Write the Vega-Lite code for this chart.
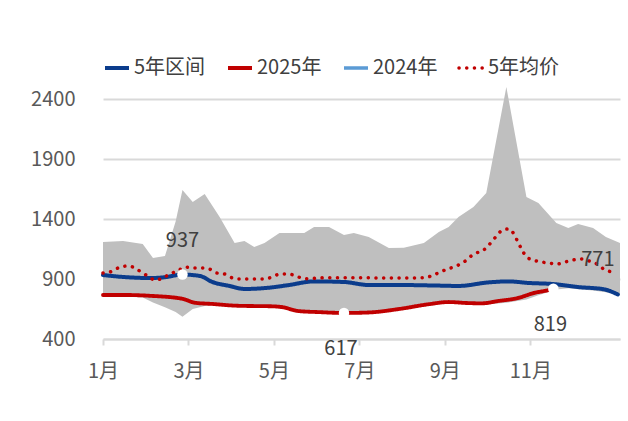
{
  "$schema": "https://vega.github.io/schema/vega-lite/v6.json",
  "width": 517,
  "height": 240,
  "autosize": {"type": "none"},
  "padding": {"left": 103, "top": 99, "right": 8, "bottom": 82},
  "config": {
    "view": {"stroke": null},
    "font": "Noto Sans CJK SC",
    "axis": {"labelFont": "Noto Sans CJK SC", "labelFontSize": 20, "labelColor": "#595959", "title": null}
  },
  "datasets": {
    "band": [
      {"m": 0.00, "lo": 755, "hi": 1208},
      {"m": 0.47, "lo": 755, "hi": 1217},
      {"m": 0.93, "lo": 745, "hi": 1192},
      {"m": 1.17, "lo": 705, "hi": 1075},
      {"m": 1.45, "lo": 665, "hi": 1092},
      {"m": 1.70, "lo": 625, "hi": 1380},
      {"m": 1.86, "lo": 585, "hi": 1642},
      {"m": 2.10, "lo": 650, "hi": 1542},
      {"m": 2.38, "lo": 675, "hi": 1608},
      {"m": 2.73, "lo": 688, "hi": 1417},
      {"m": 3.08, "lo": 672, "hi": 1200},
      {"m": 3.31, "lo": 668, "hi": 1217},
      {"m": 3.54, "lo": 666, "hi": 1167},
      {"m": 3.78, "lo": 666, "hi": 1200},
      {"m": 4.13, "lo": 658, "hi": 1283},
      {"m": 4.71, "lo": 624, "hi": 1283},
      {"m": 4.94, "lo": 616, "hi": 1333},
      {"m": 5.29, "lo": 613, "hi": 1333},
      {"m": 5.64, "lo": 610, "hi": 1267},
      {"m": 5.87, "lo": 610, "hi": 1283},
      {"m": 6.22, "lo": 613, "hi": 1250},
      {"m": 6.69, "lo": 633, "hi": 1158},
      {"m": 7.04, "lo": 653, "hi": 1160},
      {"m": 7.51, "lo": 686, "hi": 1200},
      {"m": 7.86, "lo": 702, "hi": 1292},
      {"m": 8.09, "lo": 700, "hi": 1333},
      {"m": 8.32, "lo": 694, "hi": 1417},
      {"m": 8.67, "lo": 690, "hi": 1500},
      {"m": 8.97, "lo": 688, "hi": 1617},
      {"m": 9.44, "lo": 702, "hi": 2500},
      {"m": 9.91, "lo": 730, "hi": 1583},
      {"m": 10.19, "lo": 765, "hi": 1533},
      {"m": 10.61, "lo": 812, "hi": 1367},
      {"m": 10.89, "lo": 822, "hi": 1325},
      {"m": 11.12, "lo": 815, "hi": 1358},
      {"m": 11.47, "lo": 805, "hi": 1325},
      {"m": 11.77, "lo": 790, "hi": 1250},
      {"m": 12.10, "lo": 765, "hi": 1200}
    ],
    "lines": [
      {"series": "5年区间", "m": 0.00, "v": 933},
      {"series": "5年区间", "m": 0.47, "v": 917},
      {"series": "5年区间", "m": 1.10, "v": 908},
      {"series": "5年区间", "m": 1.45, "v": 915},
      {"series": "5年区间", "m": 1.86, "v": 937},
      {"series": "5年区间", "m": 2.27, "v": 925},
      {"series": "5年区间", "m": 2.56, "v": 875},
      {"series": "5年区间", "m": 2.96, "v": 842},
      {"series": "5年区间", "m": 3.31, "v": 817},
      {"series": "5年区间", "m": 3.90, "v": 828},
      {"series": "5年区间", "m": 4.36, "v": 850},
      {"series": "5年区间", "m": 4.94, "v": 880},
      {"series": "5年区间", "m": 5.64, "v": 875},
      {"series": "5年区间", "m": 6.22, "v": 850},
      {"series": "5年区间", "m": 6.93, "v": 850},
      {"series": "5年区间", "m": 7.86, "v": 845},
      {"series": "5年区间", "m": 8.32, "v": 842},
      {"series": "5年区间", "m": 9.03, "v": 872},
      {"series": "5年区间", "m": 9.49, "v": 880},
      {"series": "5年区间", "m": 9.96, "v": 867},
      {"series": "5年区间", "m": 10.54, "v": 858},
      {"series": "5年区间", "m": 11.12, "v": 833},
      {"series": "5年区间", "m": 11.71, "v": 815},
      {"series": "5年区间", "m": 12.05, "v": 771},
      {"series": "2025年", "m": 0.00, "v": 767},
      {"series": "2025年", "m": 0.47, "v": 767},
      {"series": "2025年", "m": 1.10, "v": 760},
      {"series": "2025年", "m": 1.86, "v": 735},
      {"series": "2025年", "m": 2.15, "v": 702},
      {"series": "2025年", "m": 2.56, "v": 692},
      {"series": "2025年", "m": 3.15, "v": 677},
      {"series": "2025年", "m": 4.00, "v": 672},
      {"series": "2025年", "m": 4.20, "v": 665},
      {"series": "2025年", "m": 4.57, "v": 633},
      {"series": "2025年", "m": 5.06, "v": 624},
      {"series": "2025年", "m": 5.64, "v": 617},
      {"series": "2025年", "m": 6.22, "v": 621},
      {"series": "2025年", "m": 6.93, "v": 650},
      {"series": "2025年", "m": 7.63, "v": 690},
      {"series": "2025年", "m": 8.09, "v": 708},
      {"series": "2025年", "m": 8.51, "v": 700},
      {"series": "2025年", "m": 8.86, "v": 697},
      {"series": "2025年", "m": 9.26, "v": 717},
      {"series": "2025年", "m": 9.72, "v": 742},
      {"series": "2025年", "m": 10.08, "v": 783},
      {"series": "2025年", "m": 10.43, "v": 808},
      {"series": "2025年", "m": 10.54, "v": 819},
      {"series": "5年均价", "m": 0.00, "v": 950},
      {"series": "5年均价", "m": 0.23, "v": 967},
      {"series": "5年均价", "m": 0.40, "v": 1000},
      {"series": "5年均价", "m": 0.56, "v": 1008},
      {"series": "5年均价", "m": 0.75, "v": 992},
      {"series": "5年均价", "m": 0.89, "v": 958},
      {"series": "5年均价", "m": 1.05, "v": 925},
      {"series": "5年均价", "m": 1.21, "v": 892},
      {"series": "5年均价", "m": 1.40, "v": 908},
      {"series": "5年均价", "m": 1.56, "v": 942},
      {"series": "5年均价", "m": 1.75, "v": 967},
      {"series": "5年均价", "m": 1.91, "v": 1000},
      {"series": "5年均价", "m": 2.14, "v": 992},
      {"series": "5年均价", "m": 2.33, "v": 992},
      {"series": "5年均价", "m": 2.49, "v": 983},
      {"series": "5年均价", "m": 2.66, "v": 950},
      {"series": "5年均价", "m": 2.84, "v": 942},
      {"series": "5年均价", "m": 3.03, "v": 908},
      {"series": "5年均价", "m": 3.19, "v": 900},
      {"series": "5年均价", "m": 3.59, "v": 900},
      {"series": "5年均价", "m": 3.78, "v": 900},
      {"series": "5年均价", "m": 3.96, "v": 917},
      {"series": "5年均价", "m": 4.15, "v": 942},
      {"series": "5年均价", "m": 4.34, "v": 942},
      {"series": "5年均价", "m": 4.52, "v": 925},
      {"series": "5年均价", "m": 4.71, "v": 902},
      {"series": "5年均价", "m": 5.20, "v": 910},
      {"series": "5年均价", "m": 6.00, "v": 910},
      {"series": "5年均价", "m": 6.80, "v": 908},
      {"series": "5年均价", "m": 7.51, "v": 910},
      {"series": "5年均价", "m": 7.79, "v": 942},
      {"series": "5年均价", "m": 7.95, "v": 967},
      {"series": "5年均价", "m": 8.14, "v": 992},
      {"series": "5年均价", "m": 8.32, "v": 1017},
      {"series": "5年均价", "m": 8.48, "v": 1050},
      {"series": "5年均价", "m": 8.62, "v": 1092},
      {"series": "5年均价", "m": 8.79, "v": 1125},
      {"series": "5年均价", "m": 8.97, "v": 1158},
      {"series": "5年均价", "m": 9.09, "v": 1208},
      {"series": "5年均价", "m": 9.21, "v": 1258},
      {"series": "5年均价", "m": 9.35, "v": 1308},
      {"series": "5年均价", "m": 9.49, "v": 1317},
      {"series": "5年均价", "m": 9.63, "v": 1267},
      {"series": "5年均价", "m": 9.72, "v": 1200},
      {"series": "5年均价", "m": 9.81, "v": 1142},
      {"series": "5年均价", "m": 9.91, "v": 1083},
      {"series": "5年均价", "m": 10.07, "v": 1058},
      {"series": "5年均价", "m": 10.26, "v": 1042},
      {"series": "5年均价", "m": 10.44, "v": 1033},
      {"series": "5年均价", "m": 10.63, "v": 1025},
      {"series": "5年均价", "m": 10.82, "v": 1042},
      {"series": "5年均价", "m": 11.00, "v": 1058},
      {"series": "5年均价", "m": 11.19, "v": 1067},
      {"series": "5年均价", "m": 11.38, "v": 1050},
      {"series": "5年均价", "m": 11.56, "v": 1025},
      {"series": "5年均价", "m": 11.72, "v": 983},
      {"series": "5年均价", "m": 11.91, "v": 958}
    ],
    "marks": [
      {"m": 1.86, "v": 937, "label": "937"},
      {"m": 5.64, "v": 617, "label": "617"},
      {"m": 10.54, "v": 819, "label": "819"}
    ],
    "endlabel": [
      {"m": 12.05, "v": 771, "label": "771"}
    ]
  },
  "layer": [
    {
      "data": {"name": "band"},
      "mark": {"type": "area", "color": "#bfbfbf", "clip": false},
      "encoding": {
        "x": {"field": "m", "type": "quantitative",
          "scale": {"domain": [0, 12.1], "nice": false, "zero": false},
          "axis": {"values": [0, 2, 4, 6, 8, 10], "labelExpr": "(datum.value + 1) + '月'", "grid": false, "labelFlush": false,
            "domain": true, "domainColor": "#d9d9d9", "domainWidth": 2, "tickColor": "#d9d9d9", "tickWidth": 2, "tickSize": 6, "labelPadding": 16}},
        "y": {"field": "hi", "type": "quantitative",
          "scale": {"domain": [400, 2400], "nice": false, "zero": false},
          "axis": {"values": [400, 900, 1400, 1900, 2400], "format": "d", "grid": true, "gridColor": "#d9d9d9", "gridWidth": 2,
            "domain": false, "ticks": false, "labelPadding": 28}},
        "y2": {"field": "lo"}
      }
    },
    {
      "data": {"name": "lines"},
      "mark": {"type": "line", "interpolate": "monotone", "strokeCap": "round", "clip": false},
      "encoding": {
        "x": {"field": "m", "type": "quantitative"},
        "y": {"field": "v", "type": "quantitative"},
        "color": {"field": "series", "type": "nominal",
          "scale": {"domain": ["5年区间", "2025年", "2024年", "5年均价"], "range": ["#0b3c8c", "#c00000", "#5b9bd5", "#c00000"]},
          "legend": {
            "orient": "none", "legendX": 0, "legendY": -45, "direction": "horizontal", "title": null,
            "symbolType": "stroke", "symbolSize": 576, "symbolStrokeWidth": 6,
            "labelFont": "Noto Sans CJK SC", "labelFontSize": 20, "labelColor": "#404040", "labelOffset": 3,
            "columnPadding": 14,
            "encode": {"symbols": {"update": {
              "strokeCap": {"signal": "datum.value === '5年均价' ? 'round' : 'butt'"},
              "strokeDash": {"signal": "datum.value === '5年均价' ? [0.1, 5] : [1, 0]"},
              "strokeWidth": {"signal": "datum.value === '2025年' ? 10 : datum.value === '5年均价' ? 2.5 : 6"}
            }}}
          }},
        "strokeDash": {"field": "series", "type": "nominal",
          "scale": {"domain": ["5年区间", "2025年", "2024年", "5年均价"], "range": [[1, 0], [1, 0], [1, 0], [0.1, 7.6]]}},
        "strokeWidth": {"field": "series", "type": "nominal",
          "scale": {"domain": ["5年区间", "2025年", "2024年", "5年均价"], "range": [4, 3.5, 4, 4.5]}, "legend": null}
      }
    },
    {
      "data": {"name": "marks"},
      "mark": {"type": "circle", "color": "white", "opacity": 1, "size": 110},
      "encoding": {
        "x": {"field": "m", "type": "quantitative"},
        "y": {"field": "v", "type": "quantitative"}
      }
    },
    {
      "data": {"name": "marks"},
      "transform": [{"filter": "datum.label === '937'"}],
      "mark": {"type": "text", "fontSize": 20, "color": "#404040", "dy": -34, "font": "Noto Sans CJK SC"},
      "encoding": {
        "x": {"field": "m", "type": "quantitative"},
        "y": {"field": "v", "type": "quantitative"},
        "text": {"field": "label"}
      }
    },
    {
      "data": {"name": "marks"},
      "transform": [{"filter": "datum.label !== '937'"}],
      "mark": {"type": "text", "fontSize": 20, "color": "#404040", "dy": 36, "dx": -3, "font": "Noto Sans CJK SC"},
      "encoding": {
        "x": {"field": "m", "type": "quantitative"},
        "y": {"field": "v", "type": "quantitative"},
        "text": {"field": "label"}
      }
    },
    {
      "data": {"name": "endlabel"},
      "mark": {"type": "text", "fontSize": 20, "color": "#404040", "dy": -34, "dx": -20, "font": "Noto Sans CJK SC"},
      "encoding": {
        "x": {"field": "m", "type": "quantitative"},
        "y": {"field": "v", "type": "quantitative"},
        "text": {"field": "label"}
      }
    }
  ]
}
